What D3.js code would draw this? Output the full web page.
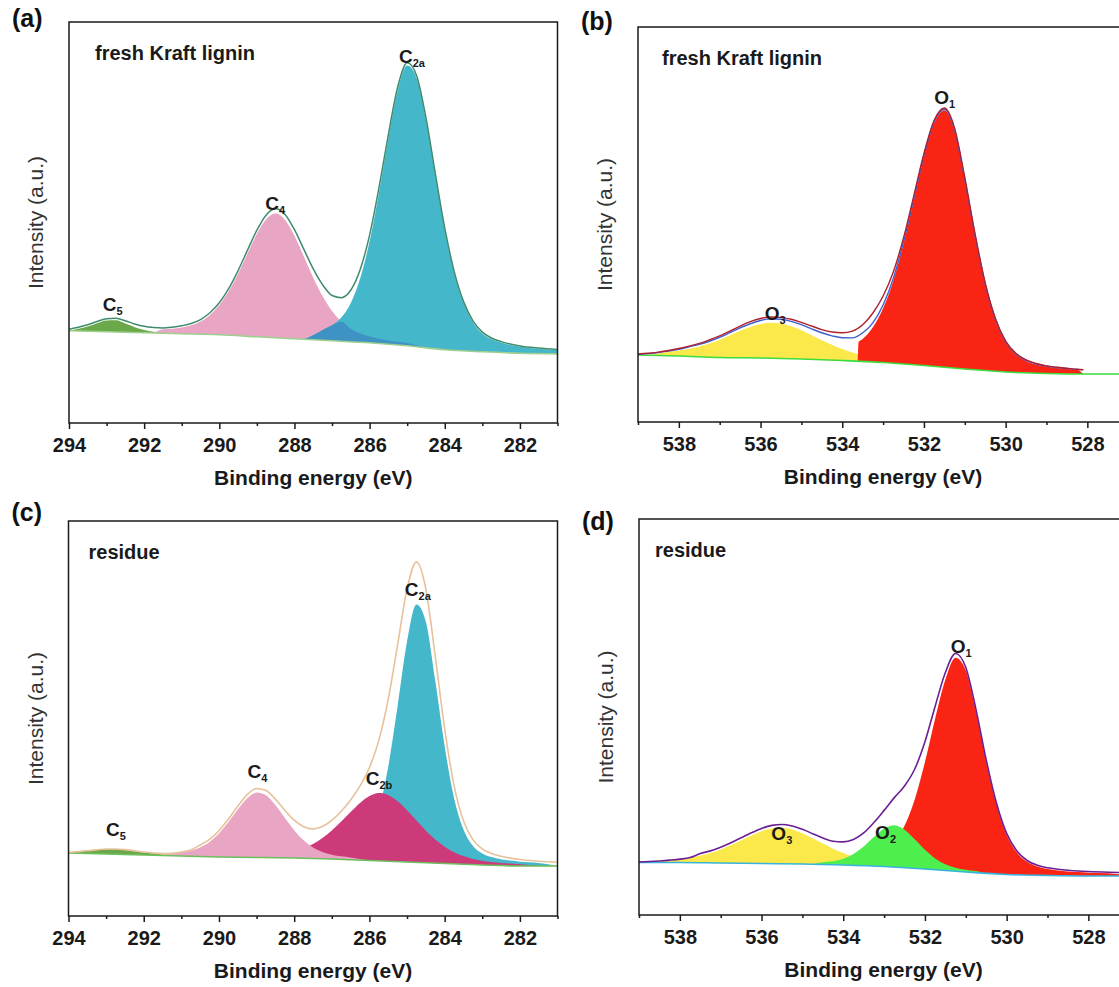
<!DOCTYPE html>
<html><head><meta charset="utf-8">
<script src="https://cdn.jsdelivr.net/npm/d3@7"></script>
<style>
body{margin:0;background:#fff}
svg{display:block}
text{font-family:"Liberation Sans",Arial,sans-serif}
</style>
</head><body>
<svg id="chart" width="1119" height="987"></svg>
<script>
// ---------------- tick labels ----------------
const cTicks = [294, 292, 290, 288, 286, 284, 282];
const cMinor = [293, 291, 289, 287, 285, 283, 281];
const oTicks = [538, 536, 534, 532, 530, 528];
const oMinor = [539, 537, 535, 533, 531, 529, 527];

// ---------------- (a) C 1s, fresh Kraft lignin ----------------
const aBase = [[294,23.0],[293,22.75],[292,22.5],[291,22.25],[290,22.0],[289,21.5],[288,21.0],[287,20.5],[286,20.0],[285,19.25],[284,18.25],[283,17.75],[282,17.4],[281,17.25]];
const aC5 = [[294,23.0],[293.75,23.53],[293.5,24.07],[293.25,24.89],[293,25.59],[292.75,25.6],[292.5,24.8],[292.25,23.9],[292,23.19],[291.75,22.76],[291.5,22.4]];
const aC4 = [[291.75,22.44],[291.5,23.37],[291.25,23.52],[291,23.82],[290.75,24.35],[290.5,25.32],[290.25,26.94],[290,29.42],[289.75,32.84],[289.5,37.25],[289.25,42.27],[289,47.19],[288.75,50.9],[288.5,52.25],[288.25,50.65],[288,46.69],[287.75,41.52],[287.5,36.25],[287.25,31.59],[287,27.92],[286.75,25.26],[286.5,23.47],[286.25,22.3],[286,21.57],[285.5,20.57],[285,19.95],[284.5,18.75]];
const aC2a = [[287.75,20.87],[287.5,21.9],[287.25,23.2],[287,24.39],[286.75,26.37],[286.5,29.95],[286.25,36.12],[286,45.3],[285.75,57.5],[285.5,71.0],[285.25,83.05],[285,89.15],[284.75,86.0],[284.5,75.55],[284.25,61.6],[284,48.15],[283.75,37.42],[283.5,29.9],[283.25,25.15],[283,22.35],[282.75,20.87],[282.5,20.05],[282,19.0],[281.5,18.5],[281,18.19]];
const aEnv = [[294,23.4],[293.75,23.9],[293.5,24.5],[293.25,25.3],[293,26.0],[292.75,26.1],[292.5,25.5],[292.25,24.7],[292,24.1],[291.75,23.8],[291.5,23.7],[291.25,23.9],[291,24.25],[290.75,24.8],[290.5,25.8],[290.25,27.5],[290,30.0],[289.75,33.5],[289.5,38.0],[289.25,43.1],[289,48.1],[288.75,51.9],[288.5,53.4],[288.25,52.0],[288,48.2],[287.75,43.3],[287.5,38.45],[287.25,34.46],[287,31.8],[286.75,31.26],[286.5,33.17],[286.25,38.3],[286,46.87],[285.75,58.7],[285.5,71.97],[285.25,83.9],[285,89.85],[284.75,86.62],[284.5,76.1],[284.25,62.1],[284,48.6],[283.75,37.82],[283.5,30.27],[283.25,25.48],[283,22.65],[282.75,21.14],[282.5,20.3],[282,19.22],[281.5,18.7],[281,18.36]];

// ---------------- (b) O 1s, fresh Kraft lignin ----------------
const bBase = [[539,16.96],[538,16.71],[537,16.33],[536,16.2],[535,15.95],[534,15.57],[533,15.07],[532,14.31],[531,13.42],[530,12.66],[529,12.28],[528,12.15],[527,12.15]];
const bO3 = [[538.75,16.9],[538.5,17.35],[538.25,17.77],[538,18.11],[537.75,18.54],[537.5,19.12],[537.25,19.88],[537,20.83],[536.75,21.95],[536.5,23.09],[536.25,24.08],[536,24.8],[535.75,25.13],[535.5,24.91],[535.25,24.21],[535,23.2],[534.75,21.96],[534.5,20.71],[534.25,19.54],[534,18.49],[533.75,17.62],[533.5,16.89],[533.25,16.33],[533,15.9],[532.75,15.5],[532.5,15.19],[532,14.65],[531.5,14.12],[531,13.42]];
const bO1 = [[533.62,15.37],[533.6,20.23],[533.5,21.01],[533.25,23.98],[533,28.77],[532.75,35.74],[532.5,45.11],[532.25,56.07],[532,67.2],[531.75,75.74],[531.5,78.94],[531.25,73.71],[531,61.18],[530.75,47.1],[530.5,34.74],[530.25,25.79],[530,20.16],[529.75,17.1],[529.5,15.47],[529.25,14.55],[529,14.02],[528.75,13.69],[528.5,13.44],[528.25,13.22],[528.1,12.17]];
const bFit = [[539,17.1],[538.75,17.3],[538.5,17.6],[538.25,17.95],[538,18.4],[537.75,19.04],[537.5,19.65],[537.25,20.45],[537,21.43],[536.75,22.61],[536.5,23.81],[536.25,24.88],[536,25.7],[535.75,26.11],[535.5,26.01],[535.25,25.46],[535,24.63],[534.75,23.58],[534.5,22.6],[534.25,21.82],[534,21.32],[533.75,21.29],[533.5,22.58],[533.25,25.11],[533,29.6],[532.75,36.36],[532.5,45.61],[532.25,56.49],[532,67.54],[531.75,76.04],[531.5,79.19],[531.25,73.93],[531,61.38],[530.75,47.29],[530.5,34.92],[530.25,25.96],[530,20.31],[529.75,17.24],[529.5,15.6],[529.25,14.68],[529,14.14],[528.75,13.8],[528.5,13.54],[528.25,13.32],[528.1,13.24]];
const bRaw = [[539,17.2],[538.75,17.4],[538.5,17.7],[538.25,18.1],[538,18.6],[537.75,19.2],[537.5,19.9],[537.25,20.8],[537,21.8],[536.75,23.0],[536.5,24.3],[536.25,25.4],[536,26.2],[535.75,26.6],[535.5,26.5],[535.25,26.0],[535,25.2],[534.75,24.3],[534.5,23.4],[534.25,22.8],[534,22.6],[533.75,23.0],[533.5,24.6],[533.25,27.6],[533,31.9],[532.75,38.0],[532.5,46.6],[532.25,57.2],[532,68.0],[531.75,76.4],[531.5,79.5],[531.25,74.4],[531,61.9],[530.75,47.7],[530.5,35.2],[530.25,26.2],[530,20.5],[529.75,17.4],[529.5,15.7],[529.25,14.8],[529,14.2],[528.75,13.85],[528.5,13.6],[528.25,13.35],[528.1,13.25]];

// ---------------- (c) C 1s, residue ----------------
const cBase = [[294,15.95],[293,15.7],[292,15.45],[291,15.19],[290,14.94],[289,14.81],[288,14.69],[287,14.43],[286,14.05],[285,13.67],[284,13.29],[283,12.91],[282,12.66],[281,12.66]];
const cC5 = [[294,15.95],[293.75,16.39],[293.5,16.57],[293.25,16.76],[293,16.91],[292.75,16.91],[292.5,16.72],[292.25,16.42],[292,16.09],[291.75,15.81],[291.5,15.57],[291,15.19]];
const cC4 = [[291.5,15.32],[291.25,15.93],[291,16.12],[290.75,16.54],[290.5,17.36],[290.25,18.75],[290,20.89],[289.75,23.78],[289.5,26.96],[289.25,29.8],[289,31.24],[288.75,30.54],[288.5,28.08],[288.25,24.86],[288,21.73],[287.75,19.17],[287.5,17.36],[287.25,16.21],[287,15.52],[286.75,15.1],[286.5,14.82],[286,14.05]];
const cC2b = [[289,14.81],[288.5,15.69],[288.25,15.99],[288,16.48],[287.75,17.2],[287.5,18.25],[287.25,19.75],[287,21.66],[286.75,23.91],[286.5,26.32],[286.25,28.63],[286,30.37],[285.75,31.16],[285.5,30.66],[285.25,29.07],[285,26.75],[284.75,24.15],[284.5,21.61],[284.25,19.38],[284,17.56],[283.75,16.17],[283.5,15.16],[283.25,14.46],[283,13.97],[282.75,13.66],[282.5,13.44],[282,13.12],[281.5,12.66]];
const cC2a = [[288,14.69],[287.5,15.56],[287,15.89],[286.75,16.18],[286.5,16.73],[286.25,17.99],[286,20.87],[285.75,26.94],[285.5,37.76],[285.25,53.17],[285,69.47],[284.75,78.88],[284.5,74.48],[284.25,59.59],[284,42.99],[283.75,29.9],[283.5,21.9],[283.25,17.77],[283,15.82],[282.75,14.91],[282.5,14.39],[282.25,14.02],[282,13.74],[281.5,13.44],[281,12.66]];
const cEnv = [[294,16.1],[293.75,16.3],[293.5,16.5],[293.25,16.75],[293,16.95],[292.75,16.95],[292.5,16.8],[292.25,16.5],[292,16.2],[291.75,15.95],[291.5,15.8],[291.25,15.85],[291,16.2],[290.75,16.7],[290.5,17.99],[290.25,19.42],[290,21.59],[289.75,24.55],[289.5,27.79],[289.25,30.73],[289,32.29],[288.75,31.79],[288.5,29.6],[288.25,26.78],[288,24.25],[287.75,22.59],[287.5,22.05],[287.25,22.66],[287,24.21],[286.75,26.51],[286.5,29.39],[286.25,32.95],[286,37.57],[285.75,44.47],[285.5,54.84],[285.25,68.72],[285,82.77],[284.75,89.65],[284.5,82.79],[284.25,65.75],[284,47.41],[283.75,33.01],[283.5,24.09],[283.25,19.34],[283,16.99],[282.75,15.82],[282.5,15.14],[282.25,14.66],[282,14.29],[281.5,13.87],[281,13.6]];

// ---------------- (d) O 1s, residue ----------------
const dBase = [[539,13.26],[538,13.26],[537,13.13],[536,13.0],[535,12.88],[534,12.63],[533,12.25],[532,11.62],[531,10.86],[530,10.23],[529,9.97],[528,9.85],[527,9.85]];
const dO3 = [[539,13.26],[538.75,13.5],[538.5,13.74],[538.25,13.9],[538,14.16],[537.75,14.47],[537.5,15.0],[537.25,15.65],[537,16.55],[536.75,17.65],[536.5,18.87],[536.25,20.09],[536,21.16],[535.75,21.87],[535.5,22.02],[535.25,21.57],[535,20.64],[534.75,19.38],[534.5,18.05],[534.25,16.76],[534,15.66],[533.75,14.72],[533.5,13.99],[533.25,13.43],[533,13.02],[532.75,12.64],[532.5,12.37],[532,11.62]];
const dO2 = [[534.75,12.82],[534.5,13.3],[534.25,13.57],[534,14.2],[533.75,15.39],[533.5,17.27],[533.25,19.67],[533,21.85],[532.75,22.69],[532.5,21.54],[532.25,19.1],[532,16.45],[531.75,14.28],[531.5,12.81],[531.25,11.93],[531,11.4],[530.75,11.08],[530.5,10.55]];
const dO1 = [[533.5,12.44],[533.25,14.95],[533,16.05],[532.75,18.49],[532.5,22.54],[532.25,29.18],[532,38.62],[531.75,49.63],[531.5,59.44],[531.25,64.95],[531,61.76],[530.75,51.3],[530.5,38.65],[530.25,27.85],[530,20.21],[529.75,15.79],[529.5,13.43],[529.25,12.24],[529,11.62],[528.75,11.26],[528.5,11.01],[528.25,10.83],[528,10.7],[527.5,10.55],[527,9.85]];
const dEnv = [[539,13.4],[538.75,13.5],[538.5,13.65],[538.25,13.85],[538,14.1],[537.75,14.5],[537.5,15.52],[537.25,16.19],[537,17.11],[536.75,18.24],[536.5,19.5],[536.25,20.75],[536,21.86],[535.75,22.64],[535.5,22.86],[535.25,22.49],[535,21.64],[534.75,20.54],[534.5,19.45],[534.25,18.64],[534,18.46],[533.75,19.07],[533.5,20.72],[533.25,23.35],[533,26.42],[532.75,29.64],[532.5,32.57],[532.25,36.86],[532,43.74],[531.75,52.74],[531.5,61.24],[531.25,66.04],[531,62.5],[530.75,51.87],[530.5,39.13],[530.25,28.29],[530,20.62],[529.75,16.16],[529.5,13.77],[529.25,12.57],[529,11.93],[528.75,11.56],[528.5,11.29],[528.25,11.1],[528,10.97],[527.5,10.79],[527,10.67]];

// ---------------- drawing ----------------
const svg = d3.select("#chart");
const defs = svg.append("defs");

// region shared by two components on their common energies (lower of the two)
function overlapOf(p, q) {
  const qm = new Map(q.map(d => [d[0], d[1]]));
  return p.filter(d => qm.has(d[0])).map(d => [d[0], Math.min(d[1], qm.get(d[0]))]);
}

function drawPanel(cfg) {
  const x = d3.scaleLinear().domain(cfg.dom).range([cfg.left, cfg.right]);
  const y = d3.scaleLinear().domain([0, 100]).range([cfg.bottom, cfg.top]);
  const clipId = "clip-" + cfg.id;
  defs.append("clipPath").attr("id", clipId).append("rect")
    .attr("x", cfg.left).attr("y", cfg.top)
    .attr("width", cfg.right - cfg.left).attr("height", cfg.bottom - cfg.top);

  const g = svg.append("g");
  const plot = g.append("g").attr("clip-path", `url(#${clipId})`);
  const smooth = d3.line().x(d => x(d[0])).y(d => y(d[1])).curve(d3.curveMonotoneX);
  const straight = d3.line().x(d => x(d[0])).y(d => y(d[1]));

  function fillPath(comp, base) {
    const hi = d3.max(comp, d => d[0]), lo = d3.min(comp, d => d[0]);
    const bottom = base.filter(d => d[0] >= lo && d[0] <= hi).sort((a, b) => a[0] - b[0]);
    let p = smooth(comp);
    if (bottom.length) p += straight(bottom).replace(/^M/, "L");
    return p + "Z";
  }

  cfg.fills.forEach(f => {
    plot.append("path").attr("d", fillPath(f.data, cfg.base))
      .attr("fill", f.color).attr("stroke", "none");
  });
  plot.append("path").attr("d", smooth(cfg.base)).attr("fill", "none")
    .attr("stroke", cfg.baseColor).attr("stroke-width", 1.6);
  cfg.lines.forEach(l => {
    plot.append("path").attr("d", smooth(l.data)).attr("fill", "none")
      .attr("stroke", l.color).attr("stroke-width", l.width || 1.4);
  });

  // frame
  g.append("rect").attr("x", cfg.left).attr("y", cfg.top)
    .attr("width", cfg.right - cfg.left).attr("height", cfg.bottom - cfg.top)
    .attr("fill", "none").attr("stroke", "#1a1a1a").attr("stroke-width", 1.5);

  // x axis
  const ax = g.append("g").attr("transform", `translate(0,${cfg.bottom})`)
    .call(d3.axisBottom(x).tickValues(cfg.ticks).tickSize(6).tickPadding(9).tickFormat(d3.format("d")));
  ax.select(".domain").remove();
  ax.selectAll("line").attr("stroke", "#1a1a1a").attr("stroke-width", 1.5);
  ax.selectAll("text").attr("font-size", 20).attr("font-weight", "bold")
    .attr("fill", "#1a1a1a").style("font-family", '"Liberation Sans",Arial,sans-serif');
  const mx = g.append("g").attr("transform", `translate(0,${cfg.bottom})`)
    .call(d3.axisBottom(x).tickValues(cfg.minor).tickSize(3).tickFormat(""));
  mx.select(".domain").remove();
  mx.selectAll("line").attr("stroke", "#1a1a1a").attr("stroke-width", 1.5);

  // titles
  g.append("text").attr("x", (cfg.left + Math.min(cfg.right, 1128)) / 2).attr("y", cfg.bottom + 62)
    .attr("text-anchor", "middle").attr("font-size", 21).attr("font-weight", "bold")
    .attr("fill", "#1a1a1a").text("Binding energy (eV)");
  g.append("text")
    .attr("transform", `translate(${cfg.left - 26},${(cfg.top + cfg.bottom) / 2}) rotate(-90)`)
    .attr("text-anchor", "middle").attr("font-size", 21).attr("fill", "#333")
    .text("Intensity (a.u.)");
  g.append("text").attr("x", cfg.left - 57).attr("y", cfg.top + cfg.letterDy)
    .attr("font-size", 25).attr("font-weight", "bold").attr("fill", "#111").text(cfg.letter);
  g.append("text").attr("x", cfg.left + cfg.sampleDx).attr("y", cfg.top + 38)
    .attr("font-size", 20).attr("font-weight", "bold").attr("fill", "#1a1a1a").text(cfg.sample);

  // peak labels
  cfg.labels.forEach(lb => {
    const t = g.append("text").attr("x", x(lb.at[0])).attr("y", y(lb.at[1]))
      .attr("font-size", 19).attr("font-weight", "bold").attr("fill", "#1a1a1a");
    t.append("tspan").text(lb.main);
    t.append("tspan").attr("font-size", 11).attr("dy", 4).text(lb.sub);
  });
}

drawPanel({
  id: "a", letter: "(a)", letterDy: 5, sample: "fresh Kraft lignin", sampleDx: 26,
  left: 69, right: 557.5, top: 22, bottom: 423, dom: [294, 281],
  ticks: cTicks, minor: cMinor, base: aBase, baseColor: "#9fcf8f",
  fills: [
    {data: aC5, color: "#6aa84a"},
    {data: aC4, color: "#e9a5c4"},
    {data: aC2a, color: "#45b7ca"},
    {data: overlapOf(aC4, aC2a), color: "#3f93c4"}
  ],
  lines: [{data: aEnv, color: "#3f8c6c", width: 1.5}],
  labels: [
    {main: "C", sub: "5", at: [293.1, 28]},
    {main: "C", sub: "4", at: [288.78, 53.2]},
    {main: "C", sub: "2a", at: [285.22, 89.8]}
  ]
});

drawPanel({
  id: "b", letter: "(b)", letterDy: 3, sample: "fresh Kraft lignin", sampleDx: 24,
  left: 638, right: 1128.2, top: 27, bottom: 422, dom: [539, 527],
  ticks: oTicks, minor: oMinor, base: bBase, baseColor: "#3ddc3d",
  fills: [
    {data: bO3, color: "#fbe84a"},
    {data: bO1, color: "#fa2415"}
  ],
  lines: [
    {data: bFit, color: "#3d5fd0", width: 1.4},
    {data: bRaw, color: "#b0202a", width: 1.4}
  ],
  labels: [
    {main: "O", sub: "1", at: [531.75, 80.5]},
    {main: "O", sub: "3", at: [535.9, 25.8]}
  ]
});

drawPanel({
  id: "c", letter: "(c)", letterDy: 0, sample: "residue", sampleDx: 20,
  left: 68.5, right: 557.5, top: 521, bottom: 916, dom: [294, 281],
  ticks: cTicks, minor: cMinor, base: cBase, baseColor: "#6cbf5c",
  fills: [
    {data: cC5, color: "#6aa84a"},
    {data: cC2a, color: "#45b7ca"},
    {data: cC2b, color: "#cc3a7a"},
    {data: cC4, color: "#e9a5c4"}
  ],
  lines: [{data: cEnv, color: "#e6c29a", width: 1.6}],
  labels: [
    {main: "C", sub: "5", at: [293.0, 20.2]},
    {main: "C", sub: "4", at: [289.24, 34.9]},
    {main: "C", sub: "2b", at: [286.1, 33.2]},
    {main: "C", sub: "2a", at: [285.06, 81.0]}
  ]
});

drawPanel({
  id: "d", letter: "(d)", letterDy: 11, sample: "residue", sampleDx: 16,
  left: 639, right: 1129.2, top: 519, bottom: 915, dom: [539, 527],
  ticks: oTicks, minor: oMinor, base: dBase, baseColor: "#38b4dc",
  fills: [
    {data: dO1, color: "#fa2415"},
    {data: dO3, color: "#fbe84a"},
    {data: dO2, color: "#4eee4e"}
  ],
  lines: [{data: dEnv, color: "#6a1f95", width: 1.6}],
  labels: [
    {main: "O", sub: "1", at: [531.37, 66.2]},
    {main: "O", sub: "3", at: [535.76, 18.9]},
    {main: "O", sub: "2", at: [533.22, 19.2]}
  ]
});
</script>
</body></html>
